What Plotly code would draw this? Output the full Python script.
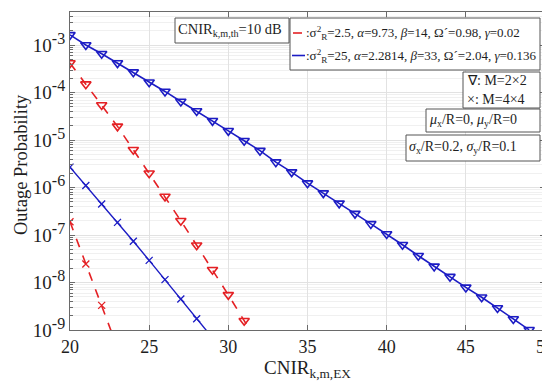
import plotly.graph_objects as go

# ---------------- data ----------------
cnir_blue_tri = list(range(20, 50))
op_blue_tri = [1.65e-3, 1.01e-3, 6.6e-4, 4.2e-4, 2.7e-4, 1.66e-4, 1.06e-4, 6.5e-5, 4.1e-5, 2.55e-5,
               1.57e-5, 9.7e-6, 6.0e-6, 3.44e-6, 2.12e-6, 1.24e-6, 7.66e-7, 4.66e-7, 2.83e-7, 1.72e-7,
               1.05e-7, 6.25e-8, 3.67e-8, 2.19e-8, 1.33e-8, 7.9e-9, 4.9e-9, 2.9e-9, 1.7e-9, 1.01e-9]

cnir_red_tri = list(range(20, 33))
op_red_tri = [4.2e-4, 1.51e-4, 5.5e-5, 1.95e-5, 6.25e-6, 2.0e-6, 6.5e-7, 2.0e-7, 6.1e-8, 1.86e-8,
              5.5e-9, 1.57e-9, 4.4e-10]

cnir_blue_x = list(range(20, 30))
op_blue_x = [2.7e-6, 1.11e-6, 4.5e-7, 1.85e-7, 7.4e-8, 2.93e-8, 1.15e-8, 4.5e-9, 1.73e-9, 6.8e-10]

cnir_red_x = list(range(20, 24))
op_red_x = [1.9e-7, 2.45e-8, 3.3e-9, 4.2e-10]

x_ticks = [20, 25, 30, 35, 40, 45, 50]
y_tick_exp = [-3, -4, -5, -6, -7, -8, -9]
y_tick_vals = [10.0 ** e for e in y_tick_exp]
y_tick_text = ["10<sup><span style='font-size:16px'>%d</span></sup>" % e for e in y_tick_exp]

# ---------------- styles ----------------
RED = "#e42024"
BLUE = "#1c1cc4"
FONT = "Liberation Serif, Times New Roman, serif"
GRID = "#e2e2e2"
AX = "#6a6a6a"
TXT = "#1e1e1e"

fig = go.Figure()
fig.add_trace(go.Scatter(x=cnir_red_tri, y=op_red_tri, mode="lines+markers",
                         line=dict(color=RED, width=1.6, dash="dash"),
                         marker=dict(symbol="triangle-down-open", size=9, color=RED, line=dict(width=1.6))))
fig.add_trace(go.Scatter(x=cnir_blue_tri, y=op_blue_tri, mode="lines+markers",
                         line=dict(color=BLUE, width=1.6),
                         marker=dict(symbol="triangle-down-open", size=9, color=BLUE, line=dict(width=1.6))))
fig.add_trace(go.Scatter(x=cnir_blue_x, y=op_blue_x, mode="lines+markers",
                         line=dict(color=BLUE, width=1.4),
                         marker=dict(symbol="x-thin-open", size=7, color=BLUE, line=dict(width=1.3, color=BLUE))))
fig.add_trace(go.Scatter(x=cnir_red_x, y=op_red_x, mode="lines+markers",
                         line=dict(color=RED, width=1.6, dash="dash"),
                         marker=dict(symbol="x-thin-open", size=7, color=RED, line=dict(width=1.3, color=RED))))

# plot area in pixels: x 62..537, y 4..322
L, R, T, B = 62, 537, 4, 322
def px(x):
    return (x - L) / (R - L)
def py(y):
    return (B - y) / (B - T)

shapes = []
def box(x0, y0, x1, y1):
    shapes.append(dict(type="rect", xref="paper", yref="paper", x0=px(x0), x1=px(x1), y0=py(y1), y1=py(y0),
                       line=dict(color="#555555", width=1), fillcolor="white", layer="above"))

box(167, 10, 281, 35)
box(282, 10, 532, 62)
box(455, 64, 532, 100)
box(418, 101, 532, 124)
box(398, 127, 532, 153)
shapes.append(dict(type="line", xref="paper", yref="paper", x0=px(285), x1=px(297), y0=py(25), y1=py(25),
                   line=dict(color=RED, width=1.6, dash="dash"), layer="above"))
shapes.append(dict(type="line", xref="paper", yref="paper", x0=px(284), x1=px(297), y0=py(47.5), y1=py(47.5),
                   line=dict(color=BLUE, width=1.6), layer="above"))

annots = []
def txt(x, y, s, size=14, angle=0, anchor="left"):
    annots.append(dict(xref="paper", yref="paper", x=px(x), y=py(y), text=s, showarrow=False,
                       textangle=angle, xanchor=anchor, yanchor="middle",
                       font=dict(family=FONT, size=size, color=TXT)))

txt(168, 22, "CNIR<sub>k,m,th</sub>=10 dB", 14.5)
txt(296, 25, ":σ<sup>2</sup><sub>R</sub>=2.5, <i>α</i>=9.73, <i>β</i>=14, Ω´=0.98, <i>γ</i>=0.02", 13)
txt(296, 48, ":σ<sup>2</sup><sub>R</sub>=25, <i>α</i>=2.2814, <i>β</i>=33, Ω´=2.04, <i>γ</i>=0.136", 13)
txt(457, 73, "∇: M=2×2", 14)
txt(457, 91, "×: M=4×4", 14)
txt(419, 112, "<i>μ</i><sub>x</sub>/R=0, <i>μ</i><sub>y</sub>/R=0", 14)
txt(399, 139, "<i>σ</i><sub>x</sub>/R=0.2, <i>σ</i><sub>y</sub>/R=0.1", 14)
txt(13, 157, "Outage Probability", 18.5, angle=-90, anchor="center")

fig.update_layout(
    width=550, height=391,
    margin=dict(l=L, r=550 - R, t=T, b=391 - B),
    paper_bgcolor="white", plot_bgcolor="white",
    showlegend=False,
    font=dict(family=FONT, color=TXT),
    shapes=shapes, annotations=annots,
)
fig.update_xaxes(
    range=[20, 50], tickmode="array", tickvals=x_ticks,
    showgrid=True, gridcolor=GRID, gridwidth=1,
    showline=True, linecolor=AX, linewidth=1, mirror="ticks",
    ticks="inside", ticklen=5, tickcolor=AX, zeroline=False,
    tickfont=dict(family=FONT, size=18, color=TXT),
    title=dict(text="CNIR<sub>k,m,EX</sub>", font=dict(family=FONT, size=19, color=TXT), standoff=2),
)
minor_vals = [m * 10.0 ** e for e in range(-9, -2) for m in range(2, 10)]
fig.update_yaxes(
    type="log", range=[-9, -2.301], tickmode="array", tickvals=y_tick_vals, ticktext=y_tick_text,
    showgrid=True, gridcolor=GRID, gridwidth=1,
    showline=True, linecolor=AX, linewidth=1, mirror="allticks",
    ticks="inside", ticklen=5, tickcolor=AX, zeroline=False,
    minor=dict(tickmode="array", tickvals=minor_vals, ticks="inside", ticklen=3, tickcolor=AX,
               showgrid=True, gridcolor="#f0f0f0", gridwidth=1),
    tickfont=dict(family=FONT, size=19, color=TXT),
)

fig.write_html("out.html")
